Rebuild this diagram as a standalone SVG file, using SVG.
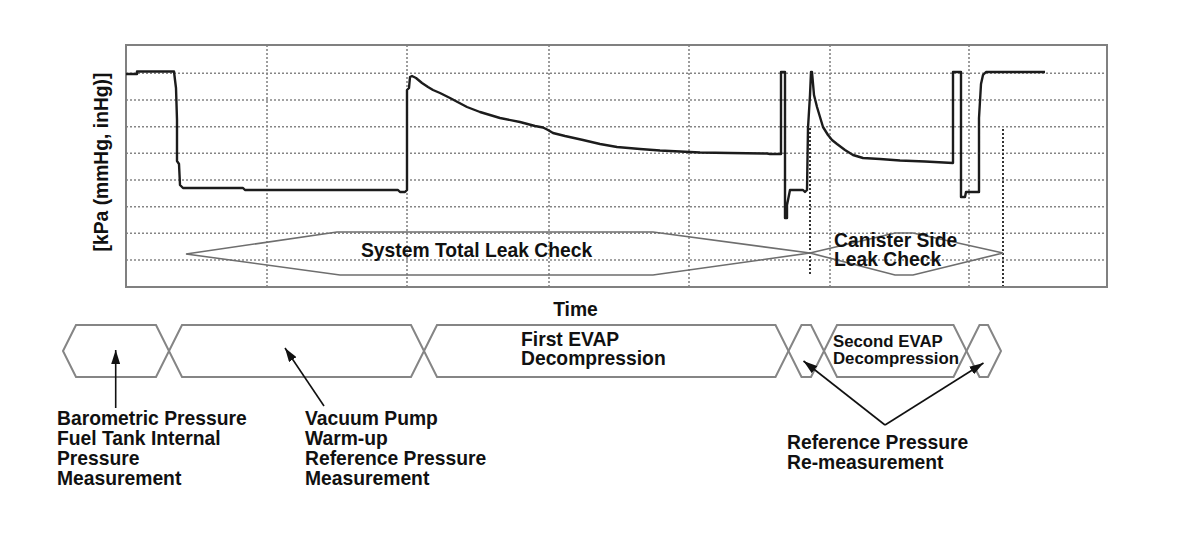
<svg xmlns="http://www.w3.org/2000/svg" width="1200" height="559" viewBox="0 0 1200 559">
<defs>
<style>
.lbl{font-family:"Liberation Sans",Arial,sans-serif;font-weight:bold;font-size:19.3px;fill:#111}
.sm{font-size:16.8px}
.grid{stroke:#858585;stroke-width:1.6;stroke-dasharray:2 2;fill:none}
.mark{stroke:#333;stroke-width:2;stroke-dasharray:2 2;fill:none}
.frame{stroke:#808080;stroke-width:2;fill:none}
.curve{stroke:#1c1c1c;stroke-width:2.4;fill:none;stroke-linejoin:round}
.env{stroke:#6e6e6e;stroke-width:1.6;fill:none}
.hex{stroke:#858585;stroke-width:2;fill:none}
.arr{stroke:#111;stroke-width:1.6;fill:none;marker-end:url(#ah)}
</style>
<marker id="ah" markerUnits="userSpaceOnUse" markerWidth="14" markerHeight="9" refX="14" refY="4.5" orient="auto">
<path d="M0,0 L14,4.5 L0,9 z" fill="#111"/>
</marker>
</defs>
<rect width="1200" height="559" fill="#fff"/>

<g id="chart">
<g id="grid">
<path class="grid" d="M126,73.3H1107M126,100H1107M126,126.7H1107M126,153.3H1107M126,180H1107M126,206.7H1107M126,233.3H1107M126,260H1107"/>
<path class="grid" d="M267,45V287M407,45V287M549,45V287M689,45V287M830,45V287M969,45V287"/>
</g>
<path class="mark" d="M810,128V275M1003,129V287"/>
<rect class="frame" x="126" y="45" width="981" height="242"/>
<text class="lbl" transform="translate(108,162) rotate(-90)" text-anchor="middle">[kPa (mmHg, inHg)]</text>
<text class="lbl" x="575.5" y="316" text-anchor="middle">Time</text>
</g>

<g id="system-total-leak-check">
<polygon class="env" points="186,254 337,232 653,232 810,253 653,275 340,275"/>
<text class="lbl" x="361" y="256.5">System Total Leak Check</text>
</g>

<g id="canister-side-leak-check">
<polygon class="env" points="810,253 895,233 913,233 1003,253 913,275 895,275"/>
<text class="lbl" x="834" y="246.5">Canister Side</text>
<text class="lbl" x="834" y="266">Leak Check</text>
</g>

<g id="pressure-curve">
<polyline class="curve" points="126,74 137,74 137,71.5 174,71.5 175,80 176,88 177,120 177,161 179,164 180,185 183,188 243,188 245,190 398,190 400,192 405,192 407,190 407,90 409,88 410,77 412,76 416,78 422,83 428,87 433,90 440,93 450,98 467,107 480,112 500,118 520,122 535,126 543,127.5 548,130 553,133 565,136 583,140 600,144 617,147 640,149 660,150.5 680,151.5 700,152.5 730,153 767,153.5 770,154 781,154 781,72 785,72 785,218 787,218 787,205 790,190 803,190 805,192 807,190 808,128 810,95 811,72 812,72 814,95 817,107 820,117 823,127 828,135 832,140 837,144 845,150 853,155 863,158 880,159 900,160.5 925,161.5 953,163 953,72 961,72 961,197 965,197 966,192 979,192 979,118 981,84 983,75 986,72 1045,72"/>
</g>

<g id="phase-baro">
<polygon class="hex" points="63,351 76,325 156,325 169,351 156,377 76,377"/>
</g>
<g id="phase-vacuum">
<polygon class="hex" points="169,351 182,325 411,325 424,351 411,377 182,377"/>
</g>
<g id="phase-first-evap">
<polygon class="hex" points="424,351 437,325 775.5,325 788.5,351 775.5,377 437,377"/>
<text class="lbl" x="521" y="345.5">First EVAP</text>
<text class="lbl" x="521" y="365">Decompression</text>
</g>
<g id="phase-ref1">
<polygon class="hex" points="788.5,351 801.5,325 811,325 824,351 811,377 801.5,377"/>
</g>
<g id="phase-second-evap">
<polygon class="hex" points="824,351 837,325 953.5,325 966.5,351 953.5,377 837,377"/>
<text class="lbl sm" x="833" y="346.5">Second EVAP</text>
<text class="lbl sm" x="833" y="363.5">Decompression</text>
</g>
<g id="phase-ref2">
<polygon class="hex" points="966.5,351 979.5,325 988,325 1001,351 988,377 979.5,377"/>
</g>

<g id="connectors">
<line class="arr" x1="115.7" y1="408" x2="115.7" y2="350"/>
<line class="arr" x1="324" y1="406" x2="285" y2="348"/>
<line class="arr" x1="885" y1="425" x2="803.5" y2="361"/>
<line class="arr" x1="885" y1="425" x2="983.5" y2="363"/>
</g>

<g id="label-baro">
<text class="lbl" x="57" y="425">Barometric Pressure</text>
<text class="lbl" x="57" y="445">Fuel Tank Internal</text>
<text class="lbl" x="57" y="465">Pressure</text>
<text class="lbl" x="57" y="484.5">Measurement</text>
</g>
<g id="label-vacuum">
<text class="lbl" x="305" y="425">Vacuum Pump</text>
<text class="lbl" x="305" y="445">Warm-up</text>
<text class="lbl" x="305" y="465">Reference Pressure</text>
<text class="lbl" x="305" y="484.5">Measurement</text>
</g>
<g id="label-ref">
<text class="lbl" x="787" y="449">Reference Pressure</text>
<text class="lbl" x="787" y="468.5">Re-measurement</text>
</g>
</svg>
